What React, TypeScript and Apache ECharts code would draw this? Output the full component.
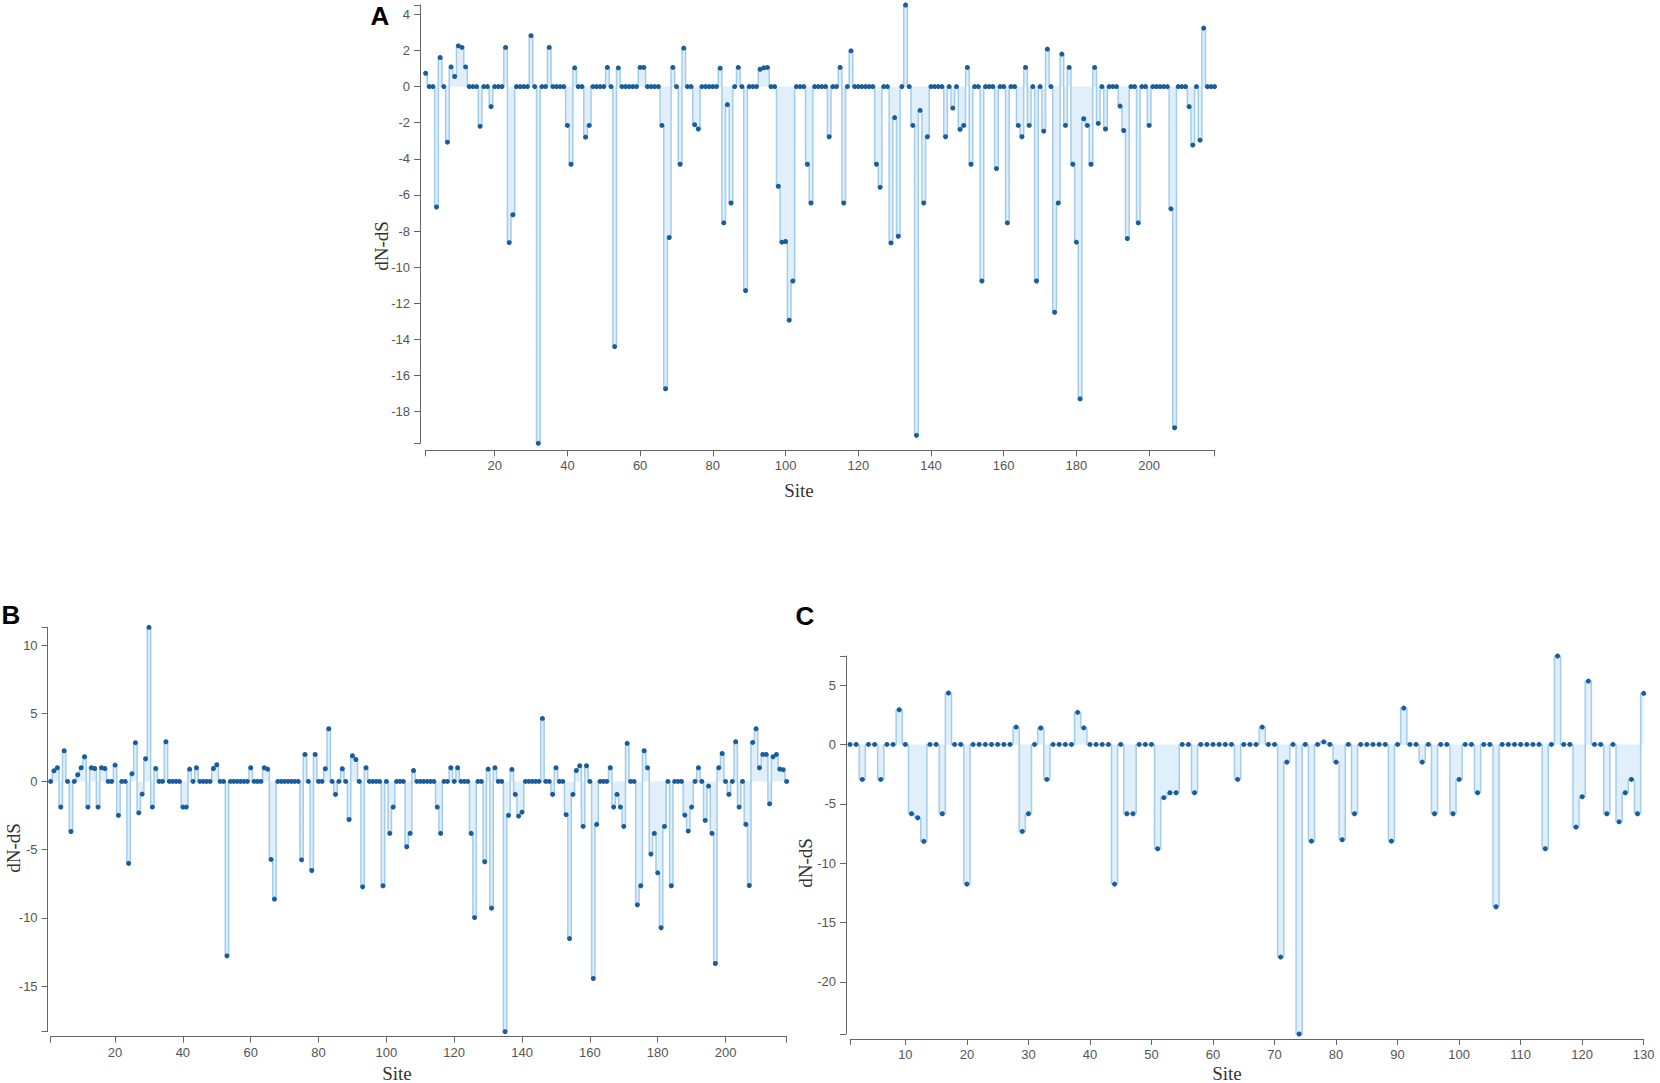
import React, { useEffect, useRef } from "react";
import * as echarts from "echarts";

// Panel A: dN-dS per site (sites 1..218)
const A_VALUES = [
  0.74, 0, 0, -6.67, 1.61, 0, -3.08, 1.09, 0.56, 2.26,
  2.17, 1.09, 0, 0, 0, -2.2, 0, 0, -1.11, 0,
  0, 0, 2.17, -8.64, -7.1, 0, 0, 0, 0, 2.82,
  0, -19.76, 0, 0, 2.17, 0, 0, 0, 0, -2.15,
  -4.3, 1.04, 0, 0, -2.8, -2.15, 0, 0, 0, 0,
  1.06, 0, -14.4, 1.04, 0, 0, 0, 0, 0, 1.06,
  1.06, 0, 0, 0, 0, -2.15, -16.74, -8.36, 1.06, 0,
  -4.3, 2.13, 0, 0, -2.11, -2.35, 0, 0, 0, 0,
  0, 1.02, -7.55, -1.0, -6.45, 0, 1.06, 0, -11.3, 0,
  0, 0, 0.96, 1.04, 1.06, 0, 0, -5.52, -8.62, -8.58,
  -12.94, -10.77, 0, 0, 0, -4.3, -6.45, 0, 0, 0,
  0, -2.78, 0, 0, 1.06, -6.45, 0, 1.98, 0, 0,
  0, 0, 0, 0, -4.3, -5.58, 0, 0, -8.66, -1.72,
  -8.29, 0, 4.52, 0, -2.15, -19.32, -1.32, -6.45, -2.78, 0,
  0, 0, 0, -2.78, 0, -1.19, 0, -2.37, -2.15, 1.06,
  -4.3, 0, 0, -10.77, 0, 0, 0, -4.54, 0, 0,
  -7.55, 0, 0, -2.15, -2.78, 1.06, -2.15, 0, -10.77, 0,
  -2.47, 2.08, 0, -12.5, -6.45, 1.8, -2.15, 1.06, -4.3, -8.62,
  -17.3, -1.78, -2.15, -4.3, 1.06, -2.04, 0, -2.35, 0, 0,
  0, -1.08, -2.43, -8.42, 0, 0, -7.55, 0, 0, -2.15,
  0, 0, 0, 0, 0, -6.77, -18.9, 0, 0, 0,
  -1.11, -3.24, 0, -2.97, 3.24, 0, 0, 0,
];

// Panel B: dN-dS per site (sites 1..218)
const B_VALUES = [
  0, 0.78, 1.0, -1.88, 2.25, 0, -3.67, 0, 0.49, 1.0,
  1.81, -1.88, 1.0, 0.95, -1.88, 1.0, 0.95, 0, 0, 1.2,
  -2.49, 0, 0, -6.01, 0.56, 2.84, -2.3, -0.93, 1.66, 11.3,
  -1.88, 0.95, 0, 0, 2.91, 0, 0, 0, 0, -1.88,
  -1.88, 0.9, 0, 1.0, 0, 0, 0, 0, 0.95, 1.22,
  0, 0, -12.79, 0, 0, 0, 0, 0, 0, 1.0,
  0, 0, 0, 1.0, 0.9, -5.72, -8.63, 0, 0, 0,
  0, 0, 0, 0, -5.75, 1.98, 0, -6.53, 1.98, 0,
  0, 0.93, 3.86, 0, -0.95, 0, 0.93, 0, -2.79, 1.88,
  1.61, 0, -7.73, 1.0, 0, 0, 0, 0, -7.65, 0,
  -3.81, -1.88, 0, 0, 0, -4.79, -3.81, 0.8, 0, 0,
  0, 0, 0, 0, -1.88, -3.81, 0, 0, 1.0, 0,
  1.0, 0, 0, 0, -3.81, -9.98, 0, 0, -5.89, 0.9,
  -9.29, 1.0, 0, 0, -18.35, -2.49, 0.88, -0.95, -2.54, -2.25,
  0, 0, 0, 0, 0, 4.62, 0, 0, -0.95, 1.0,
  0, 0, -2.44, -11.52, -0.95, 0.8, 1.15, -3.3, 1.15, 0,
  -14.45, -3.15, 0, 0, 0, 1.0, -1.88, -0.95, -1.88, -3.3,
  2.79, 0, 0, -9.05, -7.65, 2.25, 1.0, -5.33, -3.81, -6.7,
  -10.73, -3.3, 0, -7.65, 0, 0, 0, -2.47, -3.64, -1.88,
  0, 1.0, 0, -2.86, -0.34, -3.81, -13.35, 1.0, 2.05, 0,
  -0.95, 0, 2.91, -1.88, 0, -3.15, -7.63, 2.86, 3.86, 1.0,
  1.98, 1.98, -1.64, 1.81, 1.98, 0.9, 0.86, 0,
];

// Panel C: dN-dS per site (sites 1..130)
const C_VALUES = [
  0, 0, -2.95, 0, 0, -2.95, 0, 0, 2.92, 0,
  -5.84, -6.18, -8.17, 0, 0, -5.84, 4.33, 0, 0, -11.77,
  0, 0, 0, 0, 0, 0, 0, 1.46, -7.33, -5.84,
  0, 1.38, -2.95, 0, 0, 0, 0, 2.7, 1.4, 0,
  0, 0, 0, -11.77, 0, -5.84, -5.84, 0, 0, 0,
  -8.79, -4.49, -4.07, -4.07, 0, 0, -4.07, 0, 0, 0,
  0, 0, 0, -2.95, 0, 0, 0, 1.46, 0, 0,
  -17.92, -1.49, 0, -24.4, 0, -8.15, 0, 0.22, 0, -1.49,
  -8.03, 0, -5.84, 0, 0, 0, 0, 0, -8.15, 0,
  3.06, 0, 0, -1.49, 0, -5.84, 0, 0, -5.84, -2.95,
  0, 0, -4.07, 0, 0, -13.68, 0, 0, 0, 0,
  0, 0, 0, -8.79, 0, 7.45, 0, 0, -6.97, -4.41,
  5.34, 0, 0, -5.84, 0, -6.52, -4.07, -2.95, -5.84, 4.3,
];

const A_Y_TICKS = [-18, -16, -14, -12, -10, -8, -6, -4, -2, 0, 2, 4];
const B_Y_TICKS = [-15, -10, -5, 0, 5, 10];
const C_Y_TICKS = [-20, -15, -10, -5, 0, 5];
const A_X_TICKS = [20, 40, 60, 80, 100, 120, 140, 160, 180, 200];
const B_X_TICKS = [20, 40, 60, 80, 100, 120, 140, 160, 180, 200];
const C_X_TICKS = [10, 20, 30, 40, 50, 60, 70, 80, 90, 100, 110, 120, 130];

const PANEL_LETTERS = ["A", "B", "C"];
const Y_TITLE = "dN-dS";
const X_TITLE = "Site";

const AXIS_COLOR = "#666";
const LABEL_COLOR = "#555";
const LINE_COLOR = "#a3cdee";
const DOT_COLOR = "#1a5c9c";
const FILL_COLOR = "rgba(150,200,235,0.42)";

export default function App() {
  const ref = useRef<HTMLDivElement>(null);

  useEffect(() => {
    if (!ref.current) return;
    const chart = echarts.init(ref.current, undefined, { renderer: "svg" });

    const panels = [
      { values: A_VALUES, yTicks: A_Y_TICKS, xTicks: A_X_TICKS,
        grid: { left: 425.6, top: 5, width: 789, height: 438.3 }, yOff: 5.6, xOff: 7 },
      { values: B_VALUES, yTicks: B_Y_TICKS, xTicks: B_X_TICKS,
        grid: { left: 50.6, top: 627.3, width: 736, height: 404.4 }, yOff: 3, xOff: 5 },
      { values: C_VALUES, yTicks: C_Y_TICKS, xTicks: C_X_TICKS,
        grid: { left: 850, top: 656, width: 793.7, height: 378 }, yOff: 4, xOff: 5 },
    ];

    const labelFont = { fontFamily: "Liberation Sans", fontSize: 13, color: LABEL_COLOR };

    const grids = panels.map((p) => ({ ...p.grid, containLabel: false }));
    const xAxes = panels.map((p, i) => {
      const n = p.values.length;
      return {
        type: "value",
        gridIndex: i,
        min: 1,
        max: n,
        position: "bottom",
        offset: p.xOff,
        axisLine: { show: true, onZero: false, lineStyle: { color: AXIS_COLOR, width: 1 } },
        axisTick: { show: true, length: 6, customValues: [1, ...p.xTicks, n], lineStyle: { color: AXIS_COLOR } },
        axisLabel: { ...labelFont, margin: 9, customValues: p.xTicks },
        splitLine: { show: false },
      };
    });
    const yAxes = panels.map((p, i) => {
      const mn = Math.min(...p.values);
      const mx = Math.max(...p.values);
      return {
        type: "value",
        gridIndex: i,
        min: mn,
        max: mx,
        position: "left",
        offset: p.yOff,
        axisLine: { show: true, onZero: false, lineStyle: { color: AXIS_COLOR, width: 1 } },
        axisTick: { show: true, length: 6, customValues: [mn, ...p.yTicks, mx], lineStyle: { color: AXIS_COLOR } },
        axisLabel: { ...labelFont, margin: 10, customValues: p.yTicks },
        splitLine: { show: false },
      };
    });
    const series = panels.map((p, i) => ({
      type: "line",
      xAxisIndex: i,
      yAxisIndex: i,
      data: p.values.map((v, k) => [k + 1, v]),
      step: "middle",
      symbol: "circle",
      symbolSize: 5,
      showSymbol: true,
      showAllSymbol: true,
      silent: true,
      clip: false,
      lineStyle: { color: LINE_COLOR, width: 1.5 },
      itemStyle: { color: DOT_COLOR },
      areaStyle: { color: FILL_COLOR },
      z: 2,
    }));

    const titleStyle = { fill: "#333", font: "19px 'Liberation Serif'", align: "center", verticalAlign: "middle" };
    const letterStyle = { fill: "#000", font: "bold 26px 'Liberation Sans'", align: "center", verticalAlign: "middle" };
    const yTitlePos = [[381, 246], [13, 848], [805, 863]];
    const xTitlePos = [[799, 490], [397, 1073], [1227, 1073]];
    const letterPos = [[380, 16], [11, 615], [805, 616]];

    const graphics: any[] = [];
    for (let i = 0; i < 3; i++) {
      graphics.push({ type: "text", x: yTitlePos[i][0], y: yTitlePos[i][1], rotation: Math.PI / 2, style: { text: Y_TITLE, ...titleStyle } });
      graphics.push({ type: "text", x: xTitlePos[i][0], y: xTitlePos[i][1], style: { text: X_TITLE, ...titleStyle } });
      graphics.push({ type: "text", x: letterPos[i][0], y: letterPos[i][1], style: { text: PANEL_LETTERS[i], ...letterStyle } });
    }

    chart.setOption({
      animation: false,
      backgroundColor: "#fff",
      grid: grids,
      xAxis: xAxes,
      yAxis: yAxes,
      series,
      graphic: graphics,
    } as any);

    return () => chart.dispose();
  }, []);

  return (
    <div
      ref={ref}
      style={{ position: "fixed", left: 0, top: 0, width: 1660, height: 1083, background: "#fff" }}
    />
  );
}
